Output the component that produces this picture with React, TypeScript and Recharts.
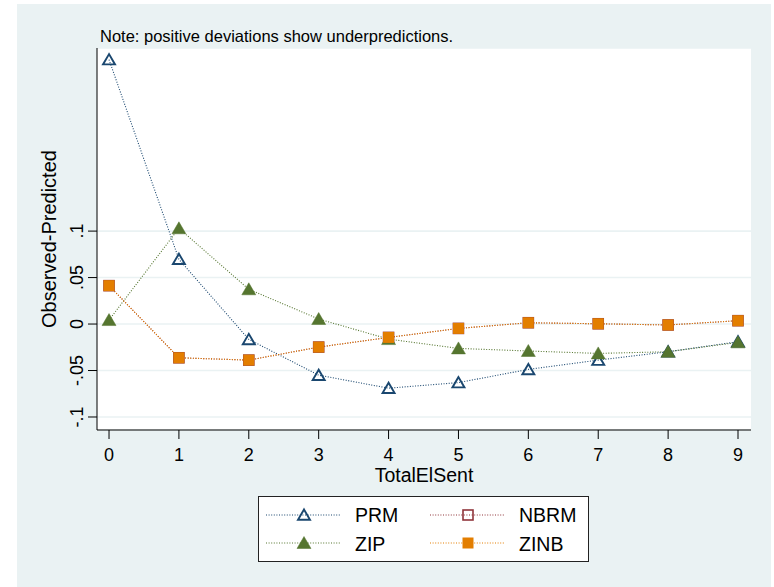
import React from "react";
import { LineChart, Line, XAxis, YAxis, CartesianGrid } from "recharts";

const xValues = [0, 1, 2, 3, 4, 5, 6, 7, 8, 9];
const prmValues = [0.2845, 0.0697, -0.0165, -0.055, -0.069, -0.063, -0.0488, -0.0388, -0.0298, -0.019];
const nbrmValues = [0.0413, -0.0363, -0.0388, -0.0248, -0.0144, -0.0047, 0.0014, 0.0003, -0.001, 0.0036];
const zipValues = [0.0043, 0.103, 0.0374, 0.0054, -0.0162, -0.0262, -0.029, -0.0316, -0.0298, -0.0197];
const zinbValues = [0.0413, -0.0363, -0.0388, -0.0248, -0.0144, -0.0047, 0.0014, 0.0003, -0.001, 0.0036];
const xTicks = [0, 1, 2, 3, 4, 5, 6, 7, 8, 9];
const yTicks = [-0.1, -0.05, 0, 0.05, 0.1];
const yTickLabels = ["-.1", "-.05", "0", ".05", ".1"];

const data = xValues.map((x, i) => ({
  x,
  PRM: prmValues[i],
  NBRM: nbrmValues[i],
  ZIP: zipValues[i],
  ZINB: zinbValues[i],
}));

const NAVY = "#1a476f";
const MAROON = "#90353b";
const GREEN = "#55752f";
const ORANGE = "#e37e00";
const BG = "#eaf2f3";
const FONT = "'Liberation Sans', Arial, Helvetica, sans-serif";

const hollowTri = (cx: number, cy: number, key?: any) => (
  <path
    key={key}
    d={`M${cx},${cy - 5.5} L${cx - 6},${cy + 4.8} L${cx + 6},${cy + 4.8} Z`}
    fill="none"
    stroke={NAVY}
    strokeWidth={1.9}
    strokeLinejoin="miter"
  />
);
const filledTri = (cx: number, cy: number, key?: any) => (
  <path
    key={key}
    d={`M${cx},${cy - 6.5} L${cx - 7},${cy + 5.5} L${cx + 7},${cy + 5.5} Z`}
    fill={GREEN}
    stroke={GREEN}
    strokeWidth={0.5}
  />
);
const filledSq = (cx: number, cy: number, key?: any) => (
  <rect key={key} x={cx - 5.5} y={cy - 5.5} width={11} height={11} fill={ORANGE} />
);
const hollowSq = (cx: number, cy: number, key?: any) => (
  <rect key={key} x={cx - 5} y={cy - 5} width={10} height={10} fill="none" stroke={MAROON} strokeWidth={1.6} />
);

const mkDot = (fn: (cx: number, cy: number, key?: any) => any) => (props: any) => {
  const { cx, cy, index } = props;
  if (cx == null || cy == null) return <g key={`d${index}`} />;
  return fn(cx, cy, `d${index}`);
};

const YTick = (props: any) => {
  const { y, index } = props;
  const label = yTickLabels[index] ?? "";
  return (
    <text
      x={83}
      y={y}
      transform={`rotate(-90, 83, ${y})`}
      textAnchor="middle"
      fontSize={18}
      fontFamily={FONT}
      fill="#000"
    >
      {label}
    </text>
  );
};

const XTick = (props: any) => {
  const { x, payload } = props;
  return (
    <text x={x} y={461} textAnchor="middle" fontSize={18} fontFamily={FONT} fill="#000">
      {String(payload.value)}
    </text>
  );
};

const DASH = "1 1.6";

export default function App() {
  return (
    <div style={{ position: "absolute", left: 0, top: 0, width: 774, height: 587, background: "#fff", overflow: "hidden" }}>
      <div style={{ position: "absolute", left: 17, top: 4, width: 754, height: 583, background: BG }} />
      <div style={{ position: "absolute", left: 0, top: 0 }}>
        <LineChart
          width={774}
          height={587}
          data={data}
          margin={{ top: 48, right: 23, bottom: 127, left: 37 }}
        >
          <CartesianGrid vertical={false} stroke={BG} strokeWidth={1.6} fill="#ffffff" />
          <XAxis
            dataKey="x"
            type="number"
            domain={[-0.172, 9.186]}
            ticks={xTicks}
            allowDataOverflow
            height={30}
            tickSize={9}
            stroke="#000"
            tickLine={{ stroke: "#000" }}
            axisLine={{ stroke: "#000" }}
            tick={<XTick />}
            interval={0}
          />
          <YAxis
            type="number"
            domain={[-0.114, 0.297]}
            ticks={yTicks}
            allowDataOverflow
            width={60}
            tickSize={9}
            stroke="#000"
            tickLine={{ stroke: "#000" }}
            axisLine={{ stroke: "#000" }}
            tick={<YTick />}
            interval={0}
          />
          <Line dataKey="PRM" type="linear" stroke={NAVY} strokeWidth={1.1} strokeDasharray={DASH} dot={mkDot(hollowTri)} activeDot={false} isAnimationActive={false} />
          <Line dataKey="NBRM" type="linear" stroke={MAROON} strokeWidth={1.1} strokeDasharray={DASH} dot={mkDot(hollowSq)} activeDot={false} isAnimationActive={false} />
          <Line dataKey="ZIP" type="linear" stroke={GREEN} strokeWidth={1.1} strokeDasharray={DASH} dot={mkDot(filledTri)} activeDot={false} isAnimationActive={false} />
          <Line dataKey="ZINB" type="linear" stroke={ORANGE} strokeWidth={1.1} strokeDasharray={DASH} dot={mkDot(filledSq)} activeDot={false} isAnimationActive={false} />
        </LineChart>
      </div>
      <svg width={774} height={587} style={{ position: "absolute", left: 0, top: 0, pointerEvents: "none" }}>
        <text x={100} y={42} fontSize={16.5} fontFamily={FONT} fill="#000">
          Note: positive deviations show underpredictions.
        </text>
        <text x={56} y={239} transform="rotate(-90, 56, 239)" textAnchor="middle" fontSize={20} fontFamily={FONT} fill="#000">
          Observed-Predicted
        </text>
        <text x={424} y={482} textAnchor="middle" fontSize={19.5} fontFamily={FONT} fill="#000">
          TotalElSent
        </text>
        <rect x={258.5} y={496.5} width={330} height={65} fill="#fff" stroke="#222" strokeWidth={1} />
        <line x1={266} y1={515} x2={340} y2={515} stroke={NAVY} strokeWidth={1.1} strokeDasharray={DASH} />
        {hollowTri(304, 515)}
        <text x={355} y={522} fontSize={19.5} fontFamily={FONT} fill="#000">PRM</text>
        <line x1={430} y1={515} x2={505} y2={515} stroke={MAROON} strokeWidth={1.1} strokeDasharray={DASH} />
        {hollowSq(468, 515)}
        <text x={519} y={522} fontSize={19.5} fontFamily={FONT} fill="#000">NBRM</text>
        <line x1={266} y1={543} x2={340} y2={543} stroke={GREEN} strokeWidth={1.1} strokeDasharray={DASH} />
        {filledTri(304, 543)}
        <text x={355} y={551} fontSize={19.5} fontFamily={FONT} fill="#000">ZIP</text>
        <line x1={430} y1={543} x2={505} y2={543} stroke={ORANGE} strokeWidth={1.1} strokeDasharray={DASH} />
        {filledSq(468, 543)}
        <text x={519} y={551} fontSize={19.5} fontFamily={FONT} fill="#000">ZINB</text>
      </svg>
    </div>
  );
}
